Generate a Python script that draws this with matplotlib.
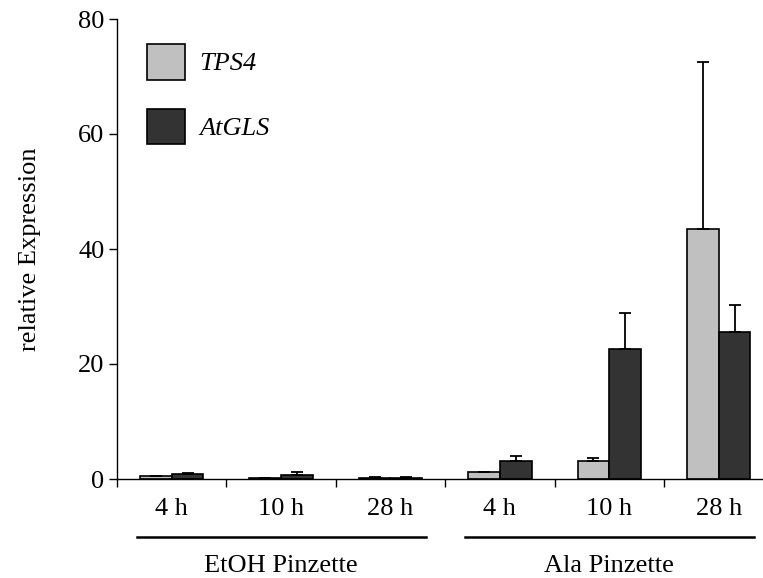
import numpy as np
import matplotlib.pyplot as plt

plt.rcParams['font.family'] = ['Liberation Serif', 'DejaVu Serif']
plt.rcParams['font.size'] = 19

# data
times = ['4 h', '10 h', '28 h', '4 h', '10 h', '28 h']
groups = ['EtOH Pinzette', 'Ala Pinzette']
group_centers = [1, 4]
tps4 = [0.45, 0.1, 0.1, 1.15, 3.2, 43.5]
tps4_err = [0.05, 0.02, 0.3, 0.05, 0.4, 29.0]
atgls = [0.9, 0.7, 0.1, 3.1, 22.6, 25.6]
atgls_err = [0.1, 0.45, 0.3, 0.95, 6.2, 4.7]

x = np.arange(len(times))
w = 0.29
ekw = dict(ecolor='black', elinewidth=1.3, capsize=4.5, capthick=1.3)

fig = plt.figure(figsize=(7.63, 5.78), dpi=100)
ax = fig.add_axes([117/763, 99/578, 646/763, 460/578])

ax.bar(x - w/2, tps4, w, color='#c0c0c0', edgecolor='black', linewidth=1.2,
       label='TPS4', yerr=[np.zeros(len(x)), tps4_err], error_kw=ekw)
ax.bar(x + w/2, atgls, w, color='#333333', edgecolor='black', linewidth=1.2,
       label='AtGLS', yerr=[np.zeros(len(x)), atgls_err], error_kw=ekw)

ax.set_ylim(0, 80)
ax.set_xlim(-0.5, 5.405)
ax.set_yticks([0, 20, 40, 60, 80])
ax.set_xticks(x, times)
ax.set_xticks(np.arange(-0.5, 5.0, 1), minor=True)
ax.tick_params(axis='x', which='major', length=0, pad=14)
ax.tick_params(axis='x', which='minor', length=6, width=1, direction='out')
ax.tick_params(axis='y', length=6, width=1, pad=3)
for s in ['top', 'right']:
    ax.spines[s].set_visible(False)
ax.spines['left'].set_linewidth(1)
ax.spines['bottom'].set_linewidth(1)

ax.set_ylabel('relative Expression', labelpad=27)

for g, c in zip(groups, group_centers):
    ax.plot([c - 1.32, c + 1.32], [-0.126, -0.126], color='black', lw=1.8,
            transform=ax.get_xaxis_transform(), clip_on=False)
    ax.text(c, -0.19, g, ha='center', va='center',
            transform=ax.get_xaxis_transform())

ax.legend(loc='upper left', bbox_to_anchor=(0.046, 0.946), frameon=False,
          borderaxespad=0, borderpad=0, handlelength=1.44, handleheight=1.71,
          handletextpad=0.55, labelspacing=1.1, prop={'style': 'italic', 'size': 19})

fig.savefig('out.png', dpi=100)
